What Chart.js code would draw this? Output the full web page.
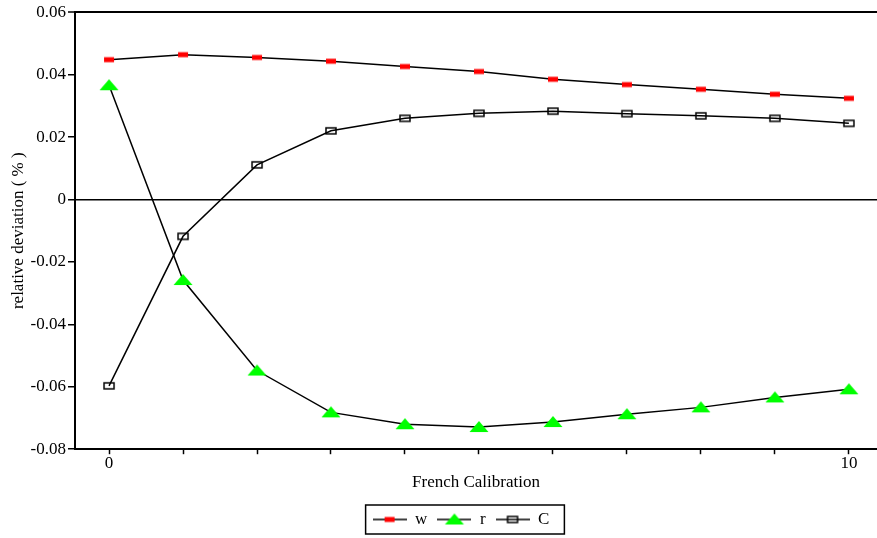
<!DOCTYPE html>
<html lang="en">

<head>
    <meta charset="UTF-8">
    <title>French Calibration</title>
    <script src="https://cdn.jsdelivr.net/npm/chart.js"></script>
    <style>
        body {
            margin: 0;
            padding: 0;
            background: #fff;
        }

        #wrap {
            width: 877px;
            height: 538px;
        }
    </style>
</head>

<body>
    <div id="wrap"><canvas id="devChart"></canvas></div>

    <script>
        // calibration steps (x) and relative deviations (%) per series
        const calib = [0, 1, 2, 3, 4, 5, 6, 7, 8, 9, 10];
        const wDev = [0.0448, 0.0464, 0.0455, 0.0443, 0.0426, 0.0410, 0.0385, 0.0368, 0.0353, 0.0337, 0.0324];
        const rDev = [0.0366, -0.0258, -0.0548, -0.0682, -0.0720, -0.0729, -0.0713, -0.0688, -0.0666, -0.0634, -0.0608];
        const cDev = [-0.0597, -0.0118, 0.0111, 0.0220, 0.0260, 0.0276, 0.0283, 0.0275, 0.0268, 0.0260, 0.0244];

        const xTicks = [0, 1, 2, 3, 4, 5, 6, 7, 8, 9, 10];
        const xTickLabels = ['0', '', '', '', '', '', '', '', '', '', '10'];
        const seriesNames = ['w', 'r', 'C'];

        const FONT = "'Liberation Serif', 'Times New Roman', serif";

        // little canvases used as point styles (marker only, or line + marker for the legend)
        function drawMarker(c, kind, cx, cy) {
            if (kind === 'w') {
                c.fillStyle = '#ff0000';
                c.fillRect(cx - 5, cy - 2.5, 10, 5);
            } else if (kind === 'r') {
                c.fillStyle = '#00ff00';
                c.beginPath();
                c.moveTo(cx, cy - 6);
                c.lineTo(cx + 9.5, cy + 5);
                c.lineTo(cx - 9.5, cy + 5);
                c.closePath();
                c.fill();
            } else {
                c.strokeStyle = '#000';
                c.lineWidth = 1.5;
                c.strokeRect(cx - 5, cy - 3, 10, 6);
            }
        }

        function makeIcon(kind, withLine) {
            const cv = document.createElement('canvas');
            cv.width = withLine ? 34 : 22;
            cv.height = 14;
            const c = cv.getContext('2d');
            if (withLine) {
                c.strokeStyle = '#000';
                c.lineWidth = 1.5;
                c.beginPath();
                c.moveTo(0, 7);
                c.lineTo(34, 7);
                c.stroke();
            }
            drawMarker(c, kind, cv.width / 2, 7);
            return cv;
        }

        const pointIcons = seriesNames.map(k => makeIcon(k, false));
        const legendIcons = seriesNames.map(k => makeIcon(k, true));

        const toXY = arr => calib.map((x, i) => ({ x: x, y: arr[i] }));

        // nudge the legend a bit left and put a box around it
        const legendFrame = {
            id: 'legendFrame',
            afterLayout(chart) {
                chart.legend.left -= 15;
                chart.legend.right -= 15;
            },
            afterDraw(chart) {
                const boxes = chart.legend && chart.legend.legendHitBoxes;
                if (!boxes || !boxes.length) return;
                const first = boxes[0];
                const last = boxes[boxes.length - 1];
                const ctx = chart.ctx;
                ctx.save();
                ctx.strokeStyle = '#000';
                ctx.lineWidth = 1.5;
                ctx.strokeRect(first.left - 7, first.top - 6, last.left + last.width - first.left + 22, first.height + 12);
                ctx.restore();
            }
        };

        const lineStyle = {
            borderColor: '#000',
            backgroundColor: '#000',
            borderWidth: 1.5,
            tension: 0,
            fill: false,
            pointRadius: 6,
            clip: false
        };

        const ctx = document.getElementById('devChart').getContext('2d');
        const chart = new Chart(ctx, {
            type: 'line',
            data: {
                datasets: [
                    { label: seriesNames[0], data: toXY(wDev), pointStyle: pointIcons[0], ...lineStyle },
                    { label: seriesNames[1], data: toXY(rDev), pointStyle: pointIcons[1], ...lineStyle },
                    { label: seriesNames[2], data: toXY(cDev), pointStyle: pointIcons[2], ...lineStyle }
                ]
            },
            options: {
                responsive: true,
                maintainAspectRatio: false,
                animation: false,
                layout: { autoPadding: false, padding: { top: 9, right: 0, left: 0, bottom: 0 } },
                plugins: {
                    tooltip: { enabled: false },
                    legend: {
                        position: 'bottom',
                        fullSize: false,
                        labels: {
                            usePointStyle: true,
                            pointStyleWidth: 34,
                            padding: 10,
                            color: '#000',
                            font: { family: FONT, size: 17 },
                            generateLabels: chart => chart.data.datasets.map((ds, i) => ({
                                text: ds.label,
                                pointStyle: legendIcons[i],
                                datasetIndex: i,
                                hidden: false,
                                lineWidth: 0,
                                fillStyle: 'transparent',
                                strokeStyle: 'transparent',
                                fontColor: '#000'
                            }))
                        }
                    }
                },
                scales: {
                    x: {
                        type: 'linear',
                        min: -0.46,
                        max: 10.38,
                        afterBuildTicks: axis => { axis.ticks = xTicks.map(v => ({ value: v })); },
                        ticks: {
                            color: '#000',
                            padding: -1,
                            autoSkip: false,
                            maxRotation: 0,
                            font: { family: FONT, size: 17 },
                            callback: v => xTickLabels[xTicks.indexOf(v)]
                        },
                        grid: {
                            color: 'transparent',
                            tickColor: '#000',
                            tickLength: 5,
                            tickWidth: 1.5
                        },
                        border: { color: '#000', width: 2 },
                        title: {
                            display: true,
                            text: 'French Calibration',
                            color: '#000',
                            font: { family: FONT, size: 17 },
                            padding: { top: 0, bottom: 8 }
                        }
                    },
                    y: {
                        min: -0.08,
                        max: 0.06,
                        afterFit: scale => { scale.width = 75; },
                        ticks: {
                            stepSize: 0.02,
                            color: '#000',
                            padding: 2,
                            font: { family: FONT, size: 17 },
                            callback: v => Math.abs(v) < 1e-9 ? '0' : v.toFixed(2)
                        },
                        grid: {
                            color: c => (Math.abs(c.tick.value) < 1e-9 || Math.abs(c.tick.value - 0.06) < 1e-9) ? '#000' : 'transparent',
                            lineWidth: c => Math.abs(c.tick.value - 0.06) < 1e-9 ? 2 : 1.5,
                            tickColor: '#000',
                            tickLength: 7,
                            tickWidth: 1.5
                        },
                        border: { color: '#000', width: 2 },
                        title: {
                            display: true,
                            text: 'relative deviation ( % )',
                            color: '#000',
                            font: { family: FONT, size: 17 },
                            padding: { top: 8, bottom: 0 }
                        }
                    }
                }
            },
            plugins: [legendFrame]
        });
    </script>
</body>

</html>
